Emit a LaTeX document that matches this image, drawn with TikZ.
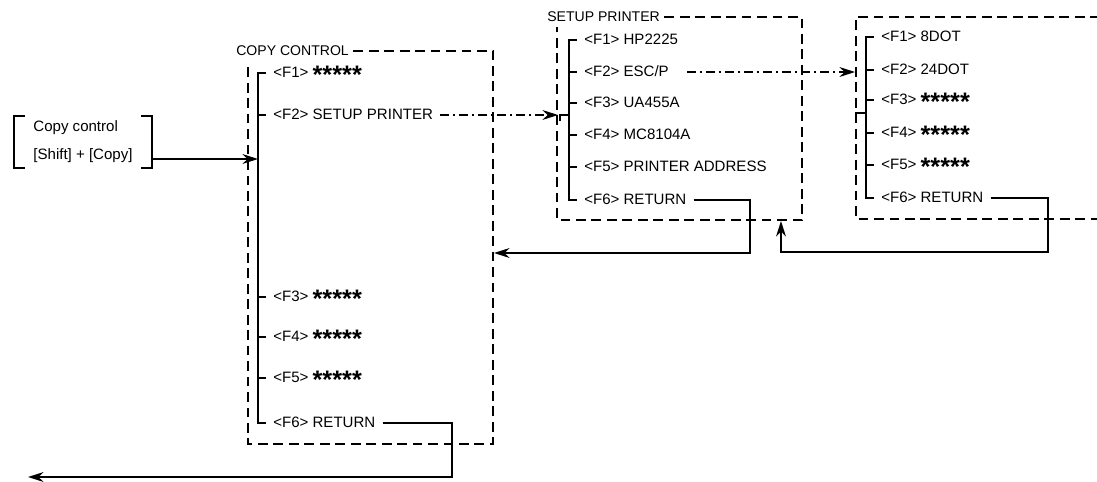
\documentclass[tikz,border=0pt]{standalone}
\usepackage{fontspec}
\setmainfont{Liberation Sans}
\usetikzlibrary{arrows.meta}
\newcommand{\fivestars}{\raisebox{-4.5pt}{\fontsize{18}{18}\selectfont\bfseries *****}}
\tikzset{
  menuitem/.style={anchor=west, inner xsep=5pt, inner ysep=0pt, text height=8pt, text depth=2pt, font=\fontsize{10.7}{12}\selectfont},
  menutitle/.style={anchor=west, inner sep=0pt, text height=8pt, text depth=2pt, font=\fontsize{10}{12}\selectfont},
  keybox/.style={minimum width=3.45cm, minimum height=1.3cm, inner sep=0pt, align=left, font=\fontsize{10.7}{20}\selectfont},
  menubox/.style={line width=1.6pt, dash pattern=on 7pt off 4pt},
  tree/.style={line width=1.3pt},
  flow/.style={-{Stealth[length=11pt, width=7pt]}, line width=1.1pt},
  dashflow/.style={flow, dash pattern=on 6pt off 3pt on 1.5pt off 3pt},
}

\begin{document}
\begin{tikzpicture}[x=0.025cm, y=-0.025cm]
    \useasboundingbox (0,0) rectangle (1097,481);
    \node[keybox] (key) at (83,142) {Copy control\\{[Shift] + [Copy]}};
    \draw[tree] ([xshift=8pt]key.north west) -- (key.north west) -- (key.south west) -- ([xshift=8pt]key.south west);
    \draw[tree] ([xshift=-8pt]key.north east) -- (key.north east) -- (key.south east) -- ([xshift=-8pt]key.south east);

    \node[menutitle] (ccT) at (236,51) {COPY CONTROL};
    \draw[menubox] ([xshift=3pt]ccT.east) -| (493,444) -| (248,62);
    \node[menuitem] (cc1) at (266,73) {<F1> \fivestars};
    \node[menuitem] (cc2) at (266,115) {<F2> SETUP PRINTER};
    \node[menuitem] (cc3) at (266,297) {<F3> \fivestars};
    \node[menuitem] (cc4) at (266,337) {<F4> \fivestars};
    \node[menuitem] (cc5) at (266,378) {<F5> \fivestars};
    \node[menuitem] (cc6) at (266,423) {<F6> RETURN};
    \draw[tree] (cc1.west) -- ++(-8,0) |- (cc6.west);
    \foreach \i in {2,...,5} \draw[tree] (cc\i.west) -- ++(-8,0);

    \node[menutitle] (spT) at (547,17) {SETUP PRINTER};
    \draw[menubox] ([xshift=3pt]spT.east) -| (802,220) -| (557,27);
    \node[menuitem] (sp1) at (577,40) {<F1> HP2225};
    \node[menuitem] (sp2) at (577,72) {<F2> ESC/P};
    \node[menuitem] (sp3) at (577,103) {<F3> UA455A};
    \node[menuitem] (sp4) at (577,135) {<F4> MC8104A};
    \node[menuitem] (sp5) at (577,167) {<F5> PRINTER ADDRESS};
    \node[menuitem] (sp6) at (577,200) {<F6> RETURN};
    \draw[tree] (sp1.west) -- ++(-8,0) |- (sp6.west);
    \foreach \i in {2,...,5} \draw[tree] (sp\i.west) -- ++(-8,0);
    \draw[tree] (560,121) |- (569,115);

    \draw[menubox] (1100,17) -| (856,219) -- (1100,219);
    \node[menuitem] (dt1) at (874,37) {<F1> 8DOT};
    \node[menuitem] (dt2) at (874,70) {<F2> 24DOT};
    \node[menuitem] (dt3) at (874,100) {<F3> \fivestars};
    \node[menuitem] (dt4) at (874,133) {<F4> \fivestars};
    \node[menuitem] (dt5) at (874,165) {<F5> \fivestars};
    \node[menuitem] (dt6) at (874,198) {<F6> RETURN};
    \draw[tree] (dt1.west) -- ++(-8,0) |- (dt6.west);
    \foreach \i in {2,...,5} \draw[tree] (dt\i.west) -- ++(-8,0);
    \draw[tree] (856,120) |- (866,113);

    \coordinate (ccin) at (258,159);
    \coordinate (spin) at (558,115);
    \coordinate (dtin) at (855,72);
    \coordinate (exit) at (28,477);
    \coordinate (ccret) at (494,253);
    \coordinate (spret) at (781,221);
    \draw[flow] (key.east |- ccin) -- (ccin);
    \draw[dashflow] (cc2.east) -- (cc2.east -| spin);
    \draw[dashflow] ([xshift=8pt]sp2.east) -- (sp2.east -| dtin);
    \draw[flow] (cc6.east) -| (452,477) -- (exit);
    \draw[flow] (sp6.east) -| (750,253) -- (ccret);
    \draw[flow] (dt6.east) -| (1048,252) -| (spret);
  \end{tikzpicture}
\end{document}
